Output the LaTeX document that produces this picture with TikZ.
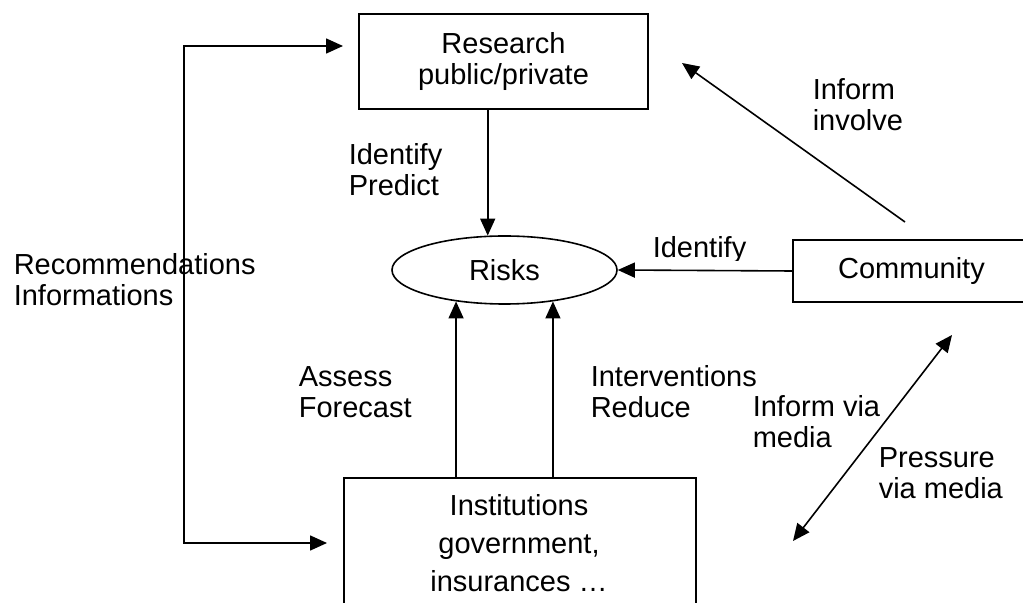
\documentclass[tikz,border=0pt]{standalone}
\usepackage{fontspec}
\setmainfont{Liberation Sans}
\usetikzlibrary{arrows.meta,shapes.geometric}

\begin{document}
\begin{tikzpicture}[x=0.5pt,y=-0.5pt,line width=0.8pt,
  font=\fontsize{14.5}{15.5}\selectfont,
  box/.style={draw,rectangle,inner sep=0pt,align=center},
  lbl/.style={anchor=base west,align=left,inner sep=0pt},
  arr/.style={-{Triangle[length=8.5pt,width=7.5pt]}},
  dblarr/.style={{Triangle[length=8.5pt,width=7.5pt]}-{Triangle[length=8.5pt,width=7.5pt]}}]
  \useasboundingbox (0,0) rectangle (1023,603);

  % actors
  \node[box,minimum width=144.5pt,minimum height=47.5pt] (research) at (503.5,61.5) {Research\\public/private};
  \node[draw,ellipse,inner sep=0pt,minimum width=112.5pt,minimum height=34pt] (risks) at (504.5,270) {Risks};
  \node[box,minimum width=118.5pt,minimum height=31pt] (comm) at (911.5,271) {Community};
  \node[box,minimum width=176pt,minimum height=82pt] (inst) at (520,560) {};
  % multi-line nodes sit on the baseline of their last line
  \node[anchor=base,align=center,inner sep=0pt,font=\fontsize{14.5}{19}\selectfont] (insttext) at (519,592) {Institutions\\government,\\insurances \dots};

  % connector end points
  \coordinate (rtip) at (343,46);
  \coordinate (itip) at (327,543);
  \coordinate (lside) at (184,300);
  \coordinate (ctail) at (905,222);
  \coordinate (rhead) at (682,63);
  \coordinate (mtop) at (952,335);
  \coordinate (mbot) at (793,541);

  % connectors
  \draw[dblarr] (rtip) -| (lside) |- (itip);
  \draw[arr] (risks.116 |- research.south) -- (risks.116);
  \draw[arr] (risks.213 |- inst.north) -- (risks.213);
  \draw[arr] (risks.327.7 |- inst.north) -- (risks.327.7);
  \draw[arr] (comm.west) -- (risks.east);
  \draw[arr] (ctail) -- (rhead);
  \draw[dblarr] (mbot) -- (mtop);

  % labels (positions give the last baseline)
  \node[lbl] (lrec) at (13,306) {Recommendations\\Informations};
  \node[lbl] (lidp) at (348,196) {Identify\\Predict};
  \node[lbl] (lass) at (298,418) {Assess\\Forecast};
  \node[lbl] (lint) at (590,418) {Interventions\\Reduce};
  \node[lbl] (linv) at (812,131) {Inform\\involve};
  \node[lbl] (limed) at (752,448) {Inform via\\media};
  \node[lbl] (lpre) at (878,499) {Pressure\\via media};
  \begin{scope}
    \clip (640,225) rectangle (770,261);
    \node[lbl] (lid) at (652,258) {Identify};
  \end{scope}
\end{tikzpicture}
\end{document}
